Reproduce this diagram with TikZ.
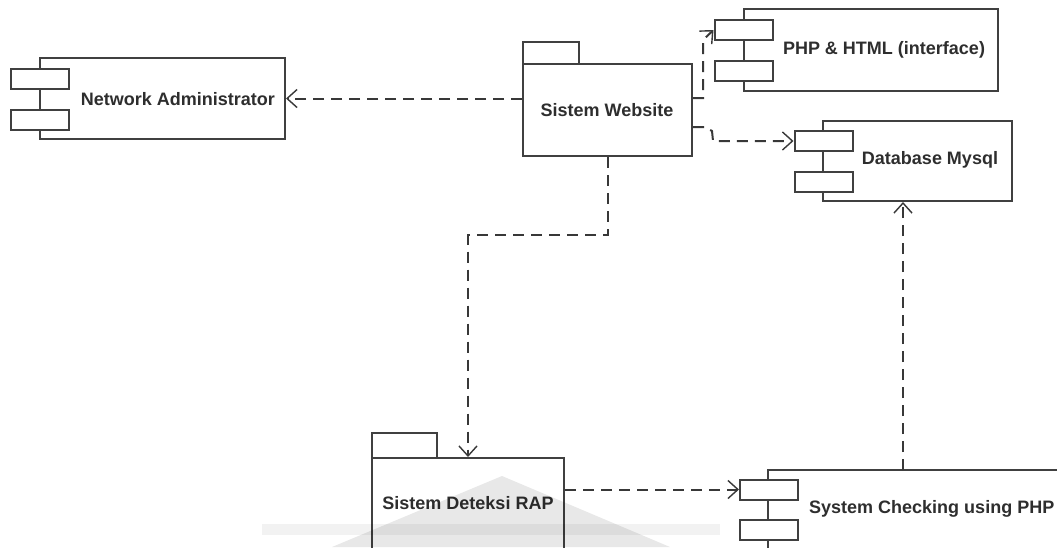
\documentclass[tikz,border=0pt]{standalone}
\usepackage{fontspec}
\setmainfont{Liberation Sans}
\usetikzlibrary{arrows.meta,calc}
\begin{document}
\begin{tikzpicture}[x=1pt,y=-1pt,
  ink/.style={draw=black!75, line width=2pt},
  comp/.style={ink, fill=white, rectangle, inner sep=0pt},
  port/.style={comp, minimum width=58pt, minimum height=20pt},
  txt/.style={inner sep=0pt, text=black!82, font=\bfseries\fontsize{18}{20}\selectfont},
  dep/.style={draw=black!78, line width=2pt, dash pattern=on 11pt off 7pt,
    -{Straight Barb[length=10pt,width=18pt,line width=1.4pt]}},
]
\clip (0,0) rectangle (1057,547);
\fill[white] (0,0) rectangle (1057,547);

% Network Administrator component
\node[comp, minimum width=245pt, minimum height=81pt] (na) at (162.5,98.5) {};
\node[port] (na-p1) at (39.5,79) {};
\node[port] (na-p2) at (39.5,119.5) {};
\node[txt] (na-t) at (178,99) {Network Administrator};

% Sistem Website package
\node[comp, minimum width=56pt, minimum height=22pt] (sw-tab) at (551,53) {};
\node[comp, minimum width=169pt, minimum height=92pt] (sw) at (607.5,110) {};
\node[txt] (sw-t) at (607,110) {Sistem Website};

% PHP & HTML component
\node[comp, minimum width=254pt, minimum height=82pt] (php) at (871,50) {};
\node[port] (php-p1) at (743.5,30) {};
\node[port] (php-p2) at (743.5,70.5) {};
\node[txt] (php-t) at (884,50) {PHP \& HTML (interface)};

% Database component
\node[comp, minimum width=189pt, minimum height=80pt] (db) at (917.5,161) {};
\node[port] (db-p1) at (823.5,141) {};
\node[port] (db-p2) at (823.5,181.5) {};
\node[txt] (db-t) at (930,160) {Database Mysql};

% Sistem Deteksi RAP package
\node[comp, minimum width=65pt, minimum height=25pt] (rap-tab) at (404.5,445.5) {};
\node[comp, minimum width=192pt, minimum height=164pt] (rap) at (468,540) {};
\node[txt] (rap-t) at (468,503) {Sistem Deteksi RAP};

% System Checking component
\node[comp, minimum width=340pt, minimum height=160pt] (sc) at (938,550) {};
\node[port] (sc-p1) at (769,489.5) {};
\node[port] (sc-p2) at (769,530) {};
\node[txt, anchor=west] (sc-t) at (809,509) {System Checking using PHP};

% dependencies
\draw[dep] (sw.west |- na.east) -- (na.east);
\draw[dep] ([yshift=12pt]sw.east) -- (703,98) -- (703,40) -- (php-p1.west);
\draw[dep] ([yshift=-17pt]sw.east) -- (705,127) -- (712,131) -- (713,141) -- (db-p1.west);
\draw[dep] (sw.south) -- ++(0,78) -| (rap.north);
\draw[dep] (rap.east |- sc-p1.west) -- (sc-p1.west);
\draw[dep] ([xshift=-14.5pt]db.south |- 0,470) -- ([xshift=-14.5pt]db.south);

% faint mark laid over the lower part
\fill[black, opacity=0.05] (262,524) rectangle (720,535);
\fill[black, opacity=0.09] (502,476) -- (670,547) -- (332,547) -- cycle;
\end{tikzpicture}
\end{document}
